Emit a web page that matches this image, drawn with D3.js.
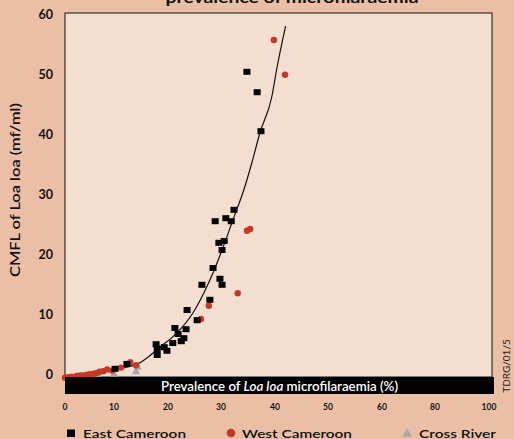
<!DOCTYPE html>
<html><head><meta charset="utf-8">
<script src="https://cdn.jsdelivr.net/npm/d3@7"></script>
<style>
html,body{margin:0;padding:0;background:#EABFA5;}
svg{display:block;font-family:Lato,"Open Sans",sans-serif;}
</style></head>
<body>
<svg id="c" width="514" height="439"></svg>
<script>
// ---- data ----
const xTickLabels = [0,10,20,30,40,50,60,80,100];
const yTickLabels = [0,10,20,30,40,50,60];

const eastX = [34.8,36.7,37.4,32.4,28.9,30.9,31.9,29.6,30.6,30.2,28.5,29.8,30.2,26.4,27.9,23.6,25.5,21.3,23.4,21.9,23.0,22.5,20.9,19.3,17.8,18.0,19.8,18.0,12.4,10.2];
const eastY = [50.7,47.3,40.8,27.7,25.8,26.3,25.8,22.2,22.5,21.0,18.0,16.2,15.2,15.2,12.7,11.0,9.3,8.0,7.8,7.0,6.3,5.8,5.5,4.8,5.3,4.5,4.2,3.5,2.0,1.2];

const westX = [39.8,41.9,34.8,35.4,33.1,27.7,26.2,0.0,0.6,1.4,2.4,3.1,3.7,4.5,5.1,5.9,6.5,7.1,7.8,8.6,9.6,11.3,13.0,14.1];
const westY = [56.0,50.2,24.2,24.5,13.8,11.7,9.5,-0.3,-0.2,-0.1,0.0,0.1,0.1,0.2,0.3,0.4,0.5,0.7,0.8,1.1,0.9,1.4,2.3,1.8];

const crossX = [6.9,10.0,14.1,14.4];
const crossY = [-0.2,0.3,0.7,1.5];

const curveX = [0,5.7,9.8,14.8,16.1,18.5,21.7,24.7,27.5,28.5,30.4,32.2,34.4,35.7,37.2,39.4,40.4,42.0];
const curveY = [-0.3,0.3,1.0,2.2,3.0,4.8,7.2,10.5,15.2,17.2,21.5,26.0,31.5,35.5,40.5,46.5,51.5,58.3];

const seriesNames = ["East Cameroon","West Cameroon","Cross River"];

// ---- chart ----
const svg = d3.select("#c");
const x = d3.scaleLinear().domain(xTickLabels).range([65,114,168,221,275,328,382,435,489]);
const y = d3.scaleLinear().domain([0,60]).range([376,16]);

// title (cut off at top, as in the original)
svg.append("text").attr("x",292).attr("y",3).attr("text-anchor","middle")
  .attr("font-size",16).attr("font-weight",700).attr("fill","#111")
  .attr("textLength",253).attr("lengthAdjust","spacingAndGlyphs")
  .text("prevalence of microfilaraemia");

// plot area
svg.append("rect").attr("x",65).attr("y",13).attr("width",427).attr("height",364)
  .attr("fill","#F4DED0").attr("stroke","#111").attr("stroke-width",1);

// y ticks labels
svg.append("g").selectAll("text").data(yTickLabels).join("text")
  .attr("x",53).attr("y",d=>y(d)-1).attr("dy","0.35em").attr("text-anchor","end")
  .attr("font-size",12.5).attr("font-weight",700).attr("fill","#111").text(d=>d);

// y title
svg.append("text").attr("transform","translate(20,190) rotate(-90)").attr("text-anchor","middle")
  .attr("font-size",12.5).attr("font-weight",600).attr("fill","#111")
  .attr("textLength",174).attr("lengthAdjust","spacingAndGlyphs")
  .text("CMFL of Loa loa  (mf/ml)");

// curve
const line = d3.line().x(d=>x(d[0])).y(d=>y(d[1])).curve(d3.curveMonotoneX);
svg.append("path").datum(curveX.map((v,i)=>[v,curveY[i]]))
  .attr("d",line).attr("fill","none").attr("stroke","#111").attr("stroke-width",1.2);

// cross river triangles
const tri = d3.symbol().type(d3.symbolTriangle).size(30);
svg.append("g").selectAll("path").data(crossX.map((v,i)=>[v,crossY[i]])).join("path")
  .attr("d",tri).attr("transform",d=>`translate(${x(d[0])},${y(d[1])})`).attr("fill","#ABA7A8");

// west circles
svg.append("g").selectAll("circle").data(westX.map((v,i)=>[v,westY[i]])).join("circle")
  .attr("cx",d=>x(d[0])).attr("cy",d=>y(d[1])).attr("r",3.2).attr("fill","#C23A26");

// east squares
svg.append("g").selectAll("rect").data(eastX.map((v,i)=>[v,eastY[i]])).join("rect")
  .attr("x",d=>x(d[0])-3.5).attr("y",d=>y(d[1])-3).attr("width",7).attr("height",6).attr("fill","#000");

// black x bar
svg.append("rect").attr("x",65).attr("y",377).attr("width",429).attr("height",17).attr("fill","#000");
const bt = svg.append("text").attr("x",279.5).attr("y",386).attr("dy","0.35em").attr("text-anchor","middle")
  .attr("font-size",13).attr("font-weight",600).attr("fill","#fff")
  .attr("textLength",237).attr("lengthAdjust","spacingAndGlyphs");
bt.append("tspan").text("Prevalence of ");
bt.append("tspan").attr("font-style","italic").text("Loa loa");
bt.append("tspan").text(" microfilaraemia (%)");

// x tick labels
svg.append("g").selectAll("text").data(xTickLabels).join("text")
  .attr("x",d=>x(d)).attr("y",407).attr("dy","0.35em").attr("text-anchor","middle")
  .attr("font-size",8.5).attr("font-weight",700).attr("fill","#111").text(d=>d);

// side code
svg.append("text").attr("transform","translate(510,366) rotate(-90)").attr("text-anchor","middle")
  .attr("font-size",10).attr("fill","#222").text("TDRG/01/5");

// legend
const lg = svg.append("g");
lg.append("rect").attr("x",67).attr("y",429.5).attr("width",8).attr("height",7.5).attr("fill","#000");
lg.append("circle").attr("cx",231).attr("cy",433).attr("r",4.3).attr("fill","#C23A26");
lg.append("path").attr("d",d3.symbol().type(d3.symbolTriangle).size(42)).attr("transform","translate(407,434)").attr("fill","#ABA7A8");
const lx = [83,242,419], lw=[103,110,77];
lg.selectAll("text").data(seriesNames).join("text")
  .attr("x",(d,i)=>lx[i]).attr("y",438)
  .attr("font-size",11.5).attr("font-weight",600).attr("fill","#111")
  .attr("textLength",(d,i)=>lw[i]).attr("lengthAdjust","spacingAndGlyphs").text(d=>d);
</script>
</body></html>
